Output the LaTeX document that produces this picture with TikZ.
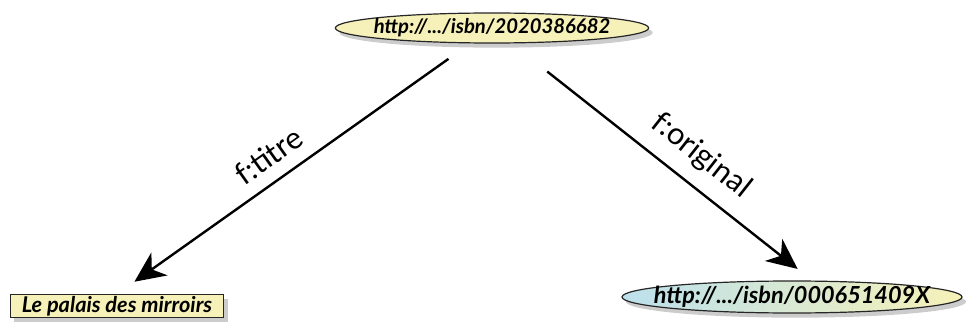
\documentclass[tikz,border=0pt]{standalone}
\usepackage{fontspec}
\setsansfont{Lato}
\usetikzlibrary{arrows.meta, shapes.geometric, shadows}
\definecolor{paleyellow}{RGB}{246,241,184}
\definecolor{paleblue}{RGB}{188,224,236}

\begin{document}
\begin{tikzpicture}[
            x=0.75pt, y=-0.75pt,
            resnode/.style={ellipse, draw=black!85, line width=0.9pt, inner xsep=-14pt, inner ysep=0pt,
                drop shadow={shadow xshift=3pt, shadow yshift=-3.5pt, opacity=0.4}},
            litnode/.style={rectangle, draw=black!85, line width=0.9pt, fill=paleyellow, inner sep=0pt,
                minimum width=160pt, minimum height=17pt,
                drop shadow={shadow xshift=3pt, shadow yshift=-3.5pt, opacity=0.4},
                font=\sffamily\bfseries\itshape\fontsize{16.3}{19}\selectfont},
            rel/.style={line width=1.8pt, -{Stealth[length=23pt, width=21pt, inset=7pt]}},
            rellabel/.style={sloped, font=\sffamily\fontsize{23}{27}\selectfont},
            ]
            \useasboundingbox (0,0) rectangle (966,331);

            \node[resnode, fill=paleyellow, minimum width=235pt, minimum height=22.5pt,
                font=\sffamily\bfseries\itshape\fontsize{15.2}{18}\selectfont]
                (isbn1) at (492,28) {http://.../isbn/2020386682};
            \node[litnode] (titre) at (117,306) {Le palais des mirroirs};
            \node[resnode, left color=paleblue, right color=paleyellow, minimum width=255pt, minimum height=24pt,
                font=\sffamily\bfseries\itshape\fontsize{17.6}{21}\selectfont]
                (isbn2) at (792,297) {http://.../isbn/000651409X};

            \draw[rel, shorten <=20pt, shorten >=16pt] (isbn1) -- (titre.north)
                node[rellabel, pos=0.53, above=6pt] {f:titre};
            \draw[rel, shorten <=34pt, shorten >=14pt] (isbn1) -- (isbn2.39)
                node[rellabel, pos=0.57, above=7pt] {f:original};
        \end{tikzpicture}
\end{document}
